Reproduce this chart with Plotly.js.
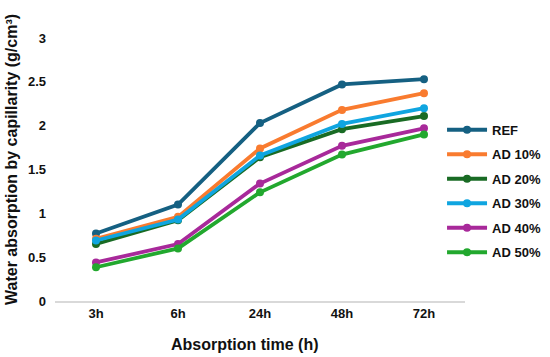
<!DOCTYPE html>
<html><head><meta charset="utf-8">
<script src="https://cdn.plot.ly/plotly-3.0.1.min.js"></script>
<style>html,body{margin:0;padding:0;background:#fff}#chart{width:550px;height:357px}</style>
</head><body><div id="chart"></div>
<script>
const categories = ["3h", "6h", "24h", "48h", "72h"];
const seriesNames = ["REF", "AD 10%", "AD 20%", "AD 30%", "AD 40%", "AD 50%"];
const REF  = [0.77, 1.10, 2.03, 2.47, 2.53];
const AD10 = [0.71, 0.96, 1.74, 2.18, 2.37];
const AD20 = [0.65, 0.92, 1.64, 1.96, 2.11];
const AD30 = [0.69, 0.93, 1.66, 2.02, 2.20];
const AD40 = [0.44, 0.65, 1.34, 1.77, 1.97];
const AD50 = [0.385, 0.60, 1.24, 1.67, 1.90];
const yTicks = [0, 0.5, 1, 1.5, 2, 2.5, 3];
const yTickText = ["0", "0.5", "1", "1.5", "2", "2.5", "3"];
const colors = ["#156082", "#F97B2F", "#196B24", "#0FA5E0", "#A8299A", "#22A82E"];

const seriesData = [REF, AD10, AD20, AD30, AD40, AD50];
const traces = seriesData.map((vals, i) => ({
  x: categories, y: vals, name: seriesNames[i], type: "scatter", mode: "lines+markers",
  line: {color: colors[i], width: 3.8}, marker: {color: colors[i], size: 8},
  legendgroup: "g" + i
}));
const layout = {
  width: 550, height: 357,
  margin: {l: 55, r: 85, t: 38, b: 56, autoexpand: false},
  paper_bgcolor: "#fff", plot_bgcolor: "#fff",
  font: {family: "Liberation Sans, Arial, sans-serif", color: "#111"},
  showlegend: true,
  legend: {x: 0.944, xanchor: "left", y: 0.708, yanchor: "top", font: {size: 13, color: "#111", weight: "bold"},
           tracegroupgap: 4.6, itemwidth: 40, bgcolor: "rgba(0,0,0,0)"},
  xaxis: {type: "category", range: [-0.5, 4.5], showgrid: false, zeroline: false,
          showline: true, linecolor: "#d9d9d9", linewidth: 1.5, ticks: "",
          tickfont: {size: 13, weight: "bold", color: "#111"}},
  yaxis: {range: [0, 3], tickvals: yTicks, ticktext: yTickText, showgrid: false, zeroline: false,
          showline: false, ticks: "", ticklabelstandoff: 8,
          tickfont: {size: 13, weight: "bold", color: "#111"}},
  annotations: [
    {text: "Water absorption by capillarity (g/cm³)", textangle: -90, xref: "paper", yref: "paper",
     x: -0.105, xanchor: "center", y: 0.54, yanchor: "middle", showarrow: false,
     font: {size: 16, weight: "bold", color: "#111"}},
    {text: "Absorption time (h)", xref: "paper", yref: "paper",
     x: 0.463, xanchor: "center", y: -0.125, yanchor: "top", showarrow: false,
     font: {size: 16, weight: "bold", color: "#111"}}
  ]
};
Plotly.newPlot("chart", traces, layout, {displayModeBar: false, staticPlot: true});
</script></body></html>
